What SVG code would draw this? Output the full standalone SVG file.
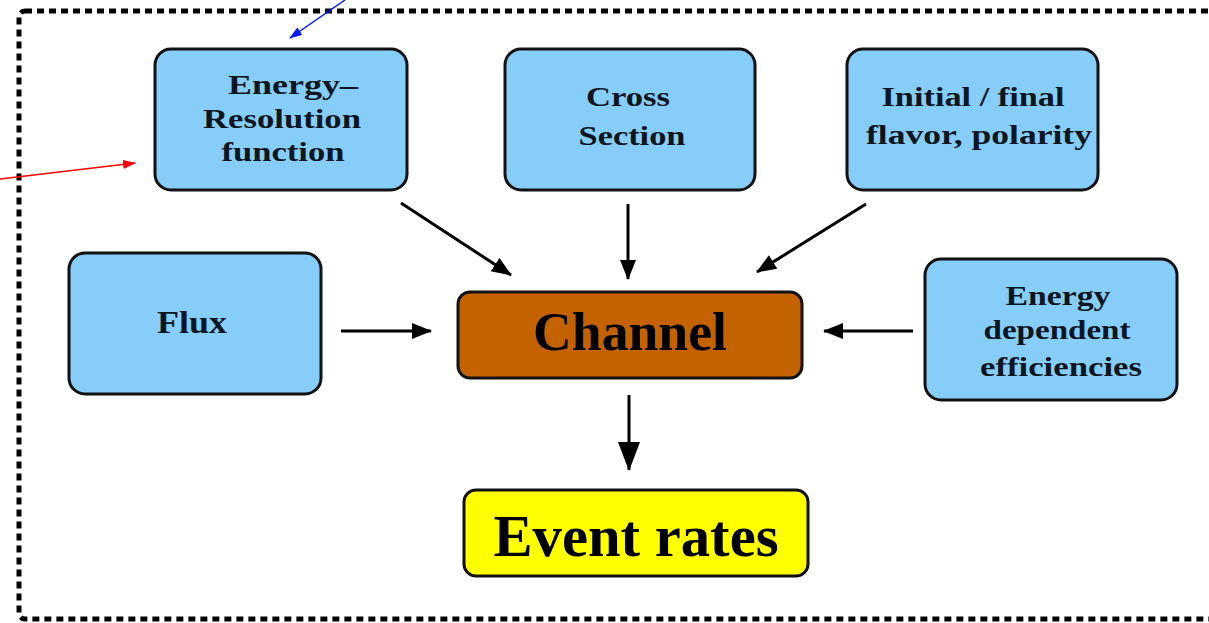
<svg xmlns="http://www.w3.org/2000/svg" width="1209" height="623" viewBox="0 0 1209 623">
<defs>
<style>
.box{fill:#87CDFA;stroke:#111;stroke-width:3}
.t{font-family:"Liberation Serif","Times New Roman",serif;font-weight:bold;fill:#0b1620;text-anchor:middle}
.big{fill:#000}
.conn{stroke:#000;stroke-width:3;fill:none}
</style>
<marker id="ah" markerUnits="userSpaceOnUse" markerWidth="22" markerHeight="18" refX="19" refY="8" orient="auto">
<path d="M0,0 L20,8 L0,16 Z" fill="#000"/>
</marker>
<marker id="ahb" markerUnits="userSpaceOnUse" markerWidth="30" markerHeight="24" refX="28" refY="11" orient="auto">
<path d="M0,0 L29,11 L0,22 Z" fill="#000"/>
</marker>
<marker id="blueh" markerUnits="userSpaceOnUse" markerWidth="14" markerHeight="10" refX="12" refY="4.5" orient="auto">
<path d="M0,0 L13,4.5 L0,9 Z" fill="#0018ff"/>
</marker>
<marker id="redh" markerUnits="userSpaceOnUse" markerWidth="14" markerHeight="10" refX="12" refY="4.5" orient="auto">
<path d="M0,0 L13,4.5 L0,9 Z" fill="#ff0000"/>
</marker>
</defs>
<rect width="1209" height="623" fill="#fff"/>
<rect id="frame" x="19" y="11" width="1230" height="608" rx="6" fill="none" stroke="#000" stroke-width="5" stroke-dasharray="7 5"/>

<g id="connectors">
<line class="conn" x1="401" y1="203" x2="511" y2="275" marker-end="url(#ah)"/>
<line class="conn" x1="628" y1="204" x2="628" y2="279" marker-end="url(#ah)"/>
<line class="conn" x1="866" y1="204" x2="757" y2="272" marker-end="url(#ah)"/>
<line class="conn" x1="341" y1="331" x2="431" y2="331" marker-end="url(#ah)"/>
<line class="conn" x1="913" y1="331" x2="824" y2="331" marker-end="url(#ah)"/>
<line class="conn" x1="629" y1="395" x2="629" y2="470" stroke-width="6" marker-end="url(#ahb)"/>
<line x1="345" y1="0" x2="290" y2="38" stroke="#0018ff" stroke-width="1.5" marker-end="url(#blueh)"/>
<line x1="0" y1="179" x2="135" y2="163" stroke="#ff0000" stroke-width="1.5" marker-end="url(#redh)"/>
</g>

<g id="energy-resolution">
<rect class="box" x="155" y="49" width="252" height="141" rx="16"/>
<text class="t" x="293" y="94" font-size="27" textLength="130" lengthAdjust="spacingAndGlyphs">Energy–</text>
<text class="t" x="282" y="128" font-size="27" textLength="158" lengthAdjust="spacingAndGlyphs">Resolution</text>
<text class="t" x="283" y="161" font-size="27" textLength="123" lengthAdjust="spacingAndGlyphs">function</text>
</g>

<g id="cross-section">
<rect class="box" x="505" y="49" width="250" height="141" rx="16"/>
<text class="t" x="628" y="106" font-size="28" textLength="84" lengthAdjust="spacingAndGlyphs">Cross</text>
<text class="t" x="632" y="145" font-size="28" textLength="107" lengthAdjust="spacingAndGlyphs">Section</text>
</g>

<g id="initial-final">
<rect class="box" x="847" y="49" width="251" height="141" rx="16"/>
<text class="t" x="973" y="106" font-size="28" textLength="183" lengthAdjust="spacingAndGlyphs">Initial / final</text>
<text class="t" x="979" y="144" font-size="28" textLength="226" lengthAdjust="spacingAndGlyphs">flavor, polarity</text>
</g>

<g id="flux">
<rect class="box" x="69" y="253" width="252" height="141" rx="16"/>
<text class="t" x="192" y="333" font-size="31" textLength="70" lengthAdjust="spacingAndGlyphs">Flux</text>
</g>

<g id="efficiencies">
<rect class="box" x="925" y="259" width="252" height="141" rx="16"/>
<text class="t" x="1058" y="305" font-size="27" textLength="105" lengthAdjust="spacingAndGlyphs">Energy</text>
<text class="t" x="1057" y="339" font-size="27" textLength="147" lengthAdjust="spacingAndGlyphs">dependent</text>
<text class="t" x="1061" y="376" font-size="27" textLength="162" lengthAdjust="spacingAndGlyphs">efficiencies</text>
</g>

<g id="channel">
<rect x="458" y="292" width="344" height="86" rx="12" fill="#C46200" stroke="#111" stroke-width="3"/>
<text class="t big" x="630" y="350" font-size="54" textLength="194" lengthAdjust="spacingAndGlyphs">Channel</text>
</g>

<g id="event-rates">
<rect x="464" y="490" width="344" height="86" rx="12" fill="#FFFF00" stroke="#111" stroke-width="3"/>
<text class="t big" x="636" y="556" font-size="60" textLength="285" lengthAdjust="spacingAndGlyphs">Event rates</text>
</g>
</svg>
